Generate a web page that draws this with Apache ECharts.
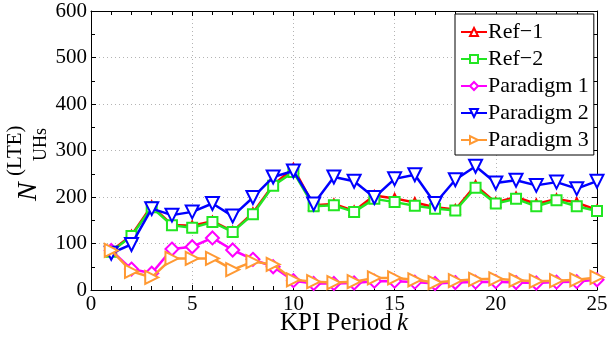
<!DOCTYPE html>
<html>
<head>
<meta charset="utf-8">
<script src="https://cdn.jsdelivr.net/npm/echarts@6/dist/echarts.min.js"></script>
<style>
  html, body { margin: 0; padding: 0; background: #fff; }
  #chart { width: 607px; height: 341px; }
</style>
</head>
<body>
<div id="chart"></div>
<script>
// KPI periods
const periods = [1, 2, 3, 4, 5, 6, 7, 8, 9, 10, 11, 12, 13, 14, 15, 16, 17, 18, 19, 20, 21, 22, 23, 24, 25];

// Number of LTE users per KPI period for each scheme
const ref1 = [84, 118, 181, 140, 138, 148, 126, 166, 226, 262, 182, 185, 170, 203, 197, 188, 178, 173, 225, 188, 200, 185, 196, 188, 172];
const ref2 = [82, 116, 178, 139, 134, 146, 125, 163, 224, 254, 180, 182, 168, 196, 189, 181, 175, 171, 220, 186, 196, 180, 193, 180, 170];
const paradigm1 = [85, 45, 36, 88, 93, 112, 86, 66, 50, 20, 14, 14, 15, 19, 19, 17, 14, 16, 17, 18, 16, 15, 17, 18, 22];
const paradigm2 = [79, 98, 175, 161, 168, 186, 159, 199, 243, 256, 185, 243, 234, 199, 239, 248, 186, 237, 266, 230, 236, 225, 232, 218, 234];
const paradigm3 = [85, 40, 27, 68, 68, 68, 44, 61, 55, 22, 18, 16, 18, 26, 26, 22, 16, 20, 23, 24, 21, 19, 20, 22, 27];

const seriesNames = ['Ref\u22121', 'Ref\u22122', 'Paradigm 1', 'Paradigm 2', 'Paradigm 3'];
const xTicks = [0, 5, 10, 15, 20, 25];
const yTicks = [0, 100, 200, 300, 400, 500, 600];

const FONT = 'Liberation Serif';

function pairs(values) {
  return periods.map((k, i) => [k, values[i]]);
}

const styles = [
  { color: '#ff0000', symbol: 'emptyTriangle', size: 9, rotate: 0 },
  { color: '#22e622', symbol: 'emptyRect', size: 10, rotate: 0 },
  { color: '#ff00ff', symbol: 'emptyDiamond', size: 13, rotate: 0 },
  { color: '#0000ff', symbol: 'emptyTriangle', size: 13, rotate: 180 },
  { color: '#ff9933', symbol: 'emptyTriangle', size: 13, rotate: -90 }
];
const allData = [ref1, ref2, paradigm1, paradigm2, paradigm3];

const series = allData.map((vals, i) => ({
  name: seriesNames[i],
  type: 'line',
  data: pairs(vals),
  symbol: styles[i].symbol,
  symbolSize: styles[i].size,
  symbolRotate: styles[i].rotate,
  lineStyle: { color: styles[i].color, width: 2.5 },
  itemStyle: { color: styles[i].color, borderWidth: 2 },
  animation: false,
  z: 2 + i
}));

const axisLine = { show: true, onZero: false, lineStyle: { color: '#000', width: 1 } };
const tick = { show: true, inside: true, length: 5, lineStyle: { color: '#000' } };
const grid = { show: true, lineStyle: { color: '#b4b4b4', type: [1, 3], width: 1 } };

// rotated y-axis title pieces: N, superscript (LTE), subscript UHs
function yLabel(text, x, y, size, italic) {
  return {
    type: 'text', x: x, y: y, z: 30, rotation: Math.PI / 2,
    style: {
      text: text, fontFamily: FONT, fontSize: size, fontStyle: italic ? 'italic' : 'normal',
      fill: '#000', align: 'left', verticalAlign: 'middle'
    }
  };
}

const chart = echarts.init(document.getElementById('chart'), null, { renderer: 'canvas' });
chart.setOption({
  backgroundColor: '#fff',
  animation: false,
  title: [
    {
      text: 'KPI Period', left: 280, top: 311, padding: 0, itemGap: 0,
      textStyle: { color: '#000', fontFamily: FONT, fontSize: 25, fontWeight: 'normal' }
    },
    {
      text: 'k', left: 397, top: 311, padding: 0, itemGap: 0,
      textStyle: { color: '#000', fontFamily: FONT, fontSize: 25, fontWeight: 'normal', fontStyle: 'italic' }
    }
  ],
  grid: { left: 91, right: 10, top: 11, bottom: 51, containLabel: false, outerBoundsMode: 'none' },
  xAxis: [
    {
      type: 'value', min: xTicks[0], max: xTicks[xTicks.length - 1], interval: 5,
      position: 'bottom',
      axisLine: axisLine,
      axisTick: tick,
      minorTick: { show: true, splitNumber: 5, length: 4, lineStyle: { color: '#000' } },
      axisLabel: { color: '#000', fontFamily: FONT, fontSize: 21, margin: 4 },
      splitLine: grid
    },
    {
      type: 'value', min: 0, max: 25, interval: 5, position: 'top',
      axisLine: axisLine,
      axisTick: tick,
      minorTick: { show: true, splitNumber: 5, length: 4, lineStyle: { color: '#000' } },
      axisLabel: { show: false },
      splitLine: { show: false }
    }
  ],
  yAxis: [
    {
      type: 'value', min: yTicks[0], max: yTicks[yTicks.length - 1], interval: 100,
      position: 'left',
      axisLine: axisLine,
      axisTick: tick,
      minorTick: { show: true, splitNumber: 2, length: 4, lineStyle: { color: '#000' } },
      axisLabel: { color: '#000', fontFamily: FONT, fontSize: 21, margin: 4 },
      splitLine: grid
    },
    {
      type: 'value', min: 0, max: 600, interval: 100, position: 'right',
      axisLine: axisLine,
      axisTick: tick,
      minorTick: { show: true, splitNumber: 2, length: 4, lineStyle: { color: '#000' } },
      axisLabel: { show: false },
      splitLine: { show: false }
    }
  ],
  legend: {
    orient: 'vertical',
    left: 455,
    top: 14,
    z: 20,
    data: seriesNames,
    itemWidth: 26,
    itemHeight: 10,
    itemGap: 5,
    padding: [7, 5, 4, 5],
    backgroundColor: '#fff',
    borderColor: '#000',
    borderWidth: 1,
    borderRadius: 0,
    textStyle: { color: '#000', fontFamily: FONT, fontSize: 22, padding: [0, 0, 0, -4] }
  },
  graphic: [
    yLabel('N', 29, 201, 28, true),
    yLabel('(LTE)', 15, 176, 21, false),
    yLabel('UHs', 41, 161, 18, false)
  ],
  series: series
});
</script>
</body>
</html>
